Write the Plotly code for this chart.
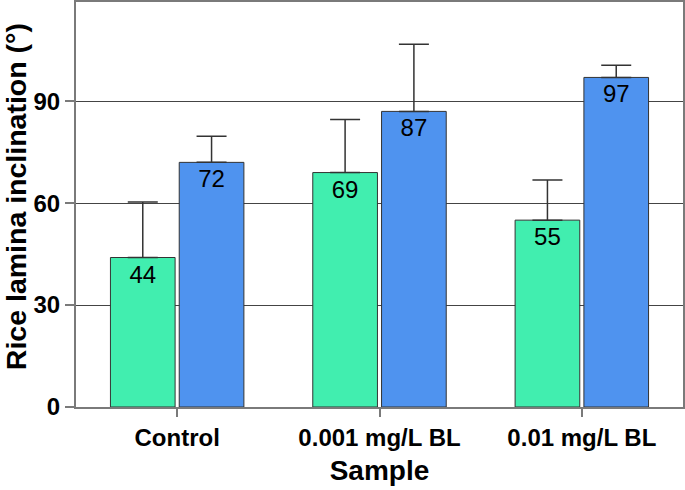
import plotly.graph_objects as go

categories = ["Control", "0.001 mg/L BL", "0.01 mg/L BL"]
series_a = [44, 69, 55]
series_b = [72, 87, 97]
err_a = [16.3, 15.6, 11.8]
err_b = [7.7, 19.8, 3.6]
y_ticks = [0, 30, 60, 90]

FONT = "Liberation Sans, Arial, Helvetica, sans-serif"

def bar(vals, errs, color):
    return go.Bar(
        x=categories, y=vals,
        marker=dict(color=color, line=dict(color="#333333", width=1)),
        text=[str(v) for v in vals],
        textposition="inside", insidetextanchor="end", textangle=0,
        constraintext="none",
        textfont=dict(family=FONT, size=24, color="black"),
        error_y=dict(type="data", symmetric=False, array=errs,
                     arrayminus=[0] * len(errs), color="#333333",
                     thickness=1.5, width=15),
        showlegend=False,
        hoverinfo="skip",
    )

fig = go.Figure([bar(series_a, err_a, "#41EEAF"), bar(series_b, err_b, "#4F93EF")])

fig.update_layout(
    width=685, height=490,
    margin=dict(l=76, r=2, t=2, b=83),
    paper_bgcolor="white", plot_bgcolor="white",
    barmode="group", bargap=0.32, bargroupgap=0.06,
    font=dict(family=FONT, color="black"),
)
fig.update_xaxes(
    range=[-0.5, 2.5], automargin=False,
    showline=True, linecolor="#7a7a7a", linewidth=2, mirror=True,
    ticks="outside", ticklen=8, tickcolor="#7a7a7a", tickwidth=1.5,
    tickfont=dict(size=24, family="Liberation Sans, Arial", weight="bold"),
    title=dict(text="<b>Sample</b>", font=dict(size=28), standoff=11),
    showgrid=False,
)
fig.update_yaxes(
    range=[0, 119.2], tickvals=y_ticks, automargin=False,
    showline=True, linecolor="#7a7a7a", linewidth=2, mirror=True,
    ticks="outside", ticklen=9, tickcolor="#7a7a7a", tickwidth=1.5,
    tickfont=dict(size=24, family="Liberation Sans, Arial", weight="bold"),
    title=dict(text="<b>&nbsp;&nbsp;Rice lamina inclination (°)</b>", font=dict(size=28.5), standoff=8),
    showgrid=True, gridcolor="#444444", gridwidth=1.2,
    zeroline=False,
)

fig.write_html(
    "out.html",
    config={"displayModeBar": False},
    post_script="document.body.style.margin='0';document.body.style.overflow='hidden';",
)
